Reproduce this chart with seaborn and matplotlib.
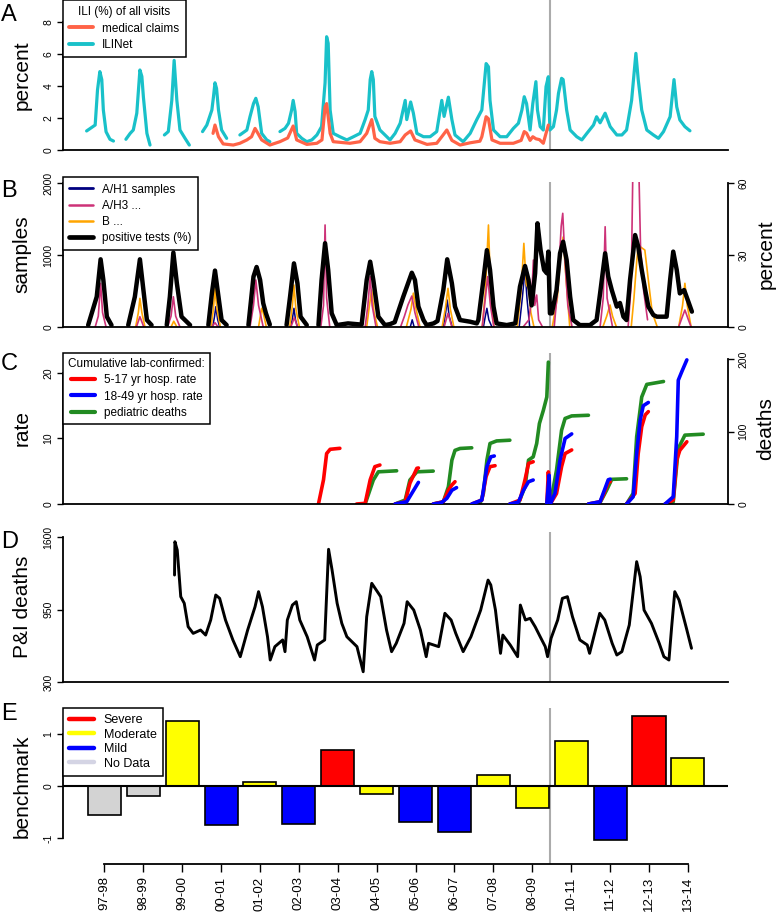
import numpy as np
import pandas as pd
import matplotlib
matplotlib.use("Agg")
import matplotlib.pyplot as plt
from matplotlib.lines import Line2D
from matplotlib import font_manager as fm
import seaborn as sns

nan = np.nan

# ---------------- Panel A : ILI (% of visits) ----------------
# time axis: seasons since Oct 1997 (2009-10 season removed)
ili_t = [0.08, 0.30, 0.36, 0.42, 0.47, 0.51, 0.58, 0.68, 0.77, nan,
         1.09, 1.20, 1.28, 1.37, 1.45, 1.50, 1.54, 1.63, 1.71, nan,
         2.08, 2.18, 2.27, 2.33, 2.40, 2.48, 2.61, 2.72, nan,
         3.06, 3.17, 3.30, 3.34, 3.38, 3.42, 3.47, 3.55, 3.68, nan,
         4.02, 4.20, 4.28, 4.37, 4.43, 4.49, 4.58, 4.71, 4.79, nan,
         5.05, 5.18, 5.27, 5.35, 5.39, 5.44, 5.48, 5.61, 5.74, 5.87,
         6.00, 6.12, 6.21, 6.25, 6.29, 6.34, 6.42, 6.59, 6.77, 6.94, 7.11,
         7.24, 7.32, 7.37, 7.41, 7.45, 7.49, 7.62, 7.75, 7.88, 8.01,
         8.14, 8.27, 8.31, 8.41, 8.48, 8.57, 8.74, 8.91,
         9.08, 9.21, 9.27, 9.38, 9.47, 9.55, 9.76, 9.94,
         10.11, 10.24, 10.35, 10.41, 10.45, 10.54, 10.71, 10.88,
         11.05, 11.18, 11.27, 11.33, 11.39, 11.48, 11.55, 11.63, 11.67, 11.74, 11.82, 11.89, 11.95, 11.99,
         12.08, 12.16, 12.21, 12.29, 12.33, 12.42, 12.51, 12.68, 12.81, 12.94,
         13.11, 13.19, 13.28, 13.41, 13.54, 13.71, 13.84, 13.96,
         14.09, 14.20, 14.26, 14.35, 14.48, 14.65, 14.78, 14.91,
         15.08, 15.18, 15.25, 15.33, 15.46, 15.59]
ili_v = [1.19, 1.56, 3.75, 4.9, 4.4, 2.5, 1.14, 0.67, 0.56, nan,
         0.67, 1.04, 1.25, 2.3, 5.0, 4.6, 3.3, 1.04, 0.31, nan,
         0.94, 1.15, 3.1, 5.6, 3.1, 1.25, 0.73, 0.31, nan,
         1.15, 1.56, 2.5, 3.3, 4.2, 3.85, 2.5, 1.25, 0.73, nan,
         0.94, 1.25, 2.08, 2.9, 3.23, 2.7, 1.04, 0.63, 0.52, nan,
         1.15, 1.35, 1.67, 2.5, 3.1, 2.4, 1.04, 0.73, 0.52, 0.63,
         0.94, 1.46, 4.2, 7.08, 6.67, 2.5, 1.04, 0.83, 0.63, 0.83, 1.04,
         1.9, 2.5, 4.4, 4.9, 4.4, 2.1, 1.25, 0.94, 0.63, 1.04,
         1.67, 3.1, 1.9, 3.0, 2.3, 1.04, 0.83, 0.83,
         1.15, 3.1, 2.1, 3.3, 1.9, 0.94, 0.52, 1.04,
         1.9, 2.5, 5.4, 5.2, 3.1, 1.25, 0.83, 0.83,
         1.35, 1.67, 2.5, 3.33, 2.9, 1.25, 2.9, 4.27, 2.5, 1.46, 1.25, 3.96, 4.58, 1.25,
         1.46, 2.5, 3.54, 4.48, 4.4, 2.5, 1.25, 0.83, 0.63, 1.04,
         1.56, 2.08, 1.7, 2.3, 1.46, 0.94, 0.94, 1.25,
         3.1, 6.04, 4.4, 2.5, 1.25, 0.94, 0.73, 1.15,
         2.08, 4.4, 2.7, 1.88, 1.46, 1.2]

claims_t = [3.33, 3.38, 3.47, 3.59, 3.85, 4.02, 4.20, 4.32, 4.41, 4.48, 4.58, 4.79, 5.05, 5.25,
            5.39, 5.48, 5.74, 6.00, 6.13, 6.21, 6.25, 6.34, 6.42, 6.85, 7.11, 7.28, 7.41, 7.49,
            7.62, 7.88, 8.14, 8.27, 8.41, 8.52, 8.83, 9.08, 9.21, 9.34, 9.47, 9.68, 9.94, 10.19,
            10.24, 10.35, 10.41, 10.50, 10.71, 11.05, 11.25, 11.33, 11.39, 11.48, 11.55, 11.63,
            11.72, 11.82, 11.89, 11.95]
claims_v = [1.04, 1.56, 0.83, 0.38, 0.31, 0.42, 0.63, 0.83, 1.35, 1.06, 0.63, 0.31, 0.52, 0.75,
            1.5, 0.63, 0.35, 0.42, 0.63, 2.7, 2.9, 1.04, 0.52, 0.42, 0.52, 1.04, 1.9, 0.73,
            0.52, 0.42, 0.52, 0.94, 1.19, 0.63, 0.35, 0.42, 0.83, 1.25, 0.6, 0.31, 0.45, 0.55,
            0.83, 2.08, 1.95, 0.63, 0.42, 0.42, 0.6, 1.15, 1.05, 0.6, 0.83, 0.7,
            0.65, 0.42, 1.04, 1.56]

# ---------------- Panel B : virology ----------------
h1_t = [3.32, 3.37, 3.40, 3.45, 3.50, nan, 5.33, 5.38, 5.41, 5.45, 5.50, nan,
        8.40, 8.45, 8.50, nan, 9.25, 9.31, 9.35, 9.40, 9.48, nan,
        10.28, 10.33, 10.37, 10.42, 10.50, nan, 11.20, 11.28, 11.35, 11.40, 11.47]
h1_v = [0, 150, 282, 100, 0, nan, 0, 150, 260, 100, 0, nan,
        0, 100, 0, nan, 0, 200, 375, 150, 0, nan,
        0, 150, 260, 100, 0, nan, 0, 400, 792, 400, 0]

h3_t = [0.30, 0.38, 0.44, 0.49, 0.58, nan, 1.36, 1.45, 1.55, nan,
        2.16, 2.25, 2.31, 2.37, 2.48, nan, 3.30, 3.38, 3.46, nan,
        4.28, 4.37, 4.43, 4.50, 4.62, nan, 5.33, 5.42, 5.50, nan,
        6.10, 6.17, 6.21, 6.25, 6.33, nan, 7.24, 7.31, 7.37, 7.42, 7.52, nan,
        8.15, 8.25, 8.34, 8.44, 8.52, 8.62, nan, 9.27, 9.37, 9.47, nan,
        10.25, 10.33, 10.39, 10.46, 10.55, nan,
        11.30, 11.45, 11.52, 11.565, 11.60, 11.65, 11.70, 11.80, nan,
        12.10, 12.20, 12.28, 12.32, 12.37, 12.45, 12.56, nan,
        13.28, 13.36, 13.41, 13.46, 13.60, nan,
        14.00, 14.08, 14.12, 14.20, 14.28, 14.32, 14.40, 14.50, nan,
        15.30, 15.40, 15.46, 15.55, 15.62]
h3_v = [0, 150, 607, 200, 0, nan, 0, 143, 0, nan,
        0, 150, 420, 150, 0, nan, 0, 60, 0, nan,
        0, 300, 653, 300, 0, nan, 0, 130, 0, nan,
        0, 300, 1417, 400, 0, nan, 0, 300, 699, 300, 0, nan,
        0, 150, 306, 430, 200, 0, nan, 0, 190, 0, nan,
        0, 400, 700, 300, 0, nan,
        0, 100, 400, 930, 300, 444, 100, 0, nan,
        0, 600, 1400, 1579, 1000, 300, 0, nan,
        0, 400, 1393, 400, 0, nan,
        0, 600, 2100, 3000, 2100, 1100, 500, 100, nan,
        0, 150, 236, 100, 0]

b_t = [1.34, 1.41, 1.45, 1.50, 1.58, nan, 2.25, 2.32, 2.40, nan,
       3.28, 3.34, 3.38, 3.43, 3.52, nan, 4.50, 4.58, 4.62, 4.70, nan,
       5.30, 5.37, 5.41, 5.46, 5.55, nan, 7.28, 7.35, 7.41, 7.47, 7.56, nan,
       8.30, 8.42, 8.48, 8.55, 8.65, nan, 9.22, 9.30, 9.37, 9.43, 9.52, nan,
       10.25, 10.33, 10.41, 10.46, 10.55, nan,
       11.15, 11.25, 11.32, 11.38, 11.45, 11.50, 11.58, nan,
       12.05, 12.18, 12.25, 12.33, 12.40, 12.50, nan,
       13.35, 13.45, 13.535, 13.60, 13.70, nan,
       14.08, 14.15, 14.22, 14.26, 14.35, 14.43, 14.52, 14.62, 14.75, nan,
       15.30, 15.40, 15.46, 15.52, 15.62]
b_v = [0, 200, 398, 200, 0, nan, 0, 80, 0, nan,
       0, 250, 537, 250, 0, nan, 0, 260, 200, 0, nan,
       0, 300, 583, 250, 0, nan, 0, 300, 514, 200, 0, nan,
       0, 250, 470, 250, 0, nan, 0, 250, 537, 250, 0, nan,
       0, 500, 1417, 600, 0, nan,
       0, 500, 1162, 600, 514, 200, 0, nan,
       0, 400, 900, 1250, 700, 0, nan,
       0, 150, 306, 150, 0, nan,
       0, 400, 900, 1139, 1100, 1069, 653, 200, 0, nan,
       0, 300, 607, 300, 0]

pos_t = [0.12, 0.34, 0.44, 0.51, 0.60, 0.72, nan,
         1.15, 1.32, 1.45, 1.54, 1.63, 1.75, nan,
         2.14, 2.22, 2.31, 2.40, 2.52, 2.74, nan,
         3.21, 3.30, 3.38, 3.47, 3.55, 3.68, nan,
         4.24, 4.37, 4.45, 4.54, 4.62, 4.69, 4.79, nan,
         5.22, 5.31, 5.41, 5.50, 5.58, 5.74, nan,
         6.04, 6.12, 6.21, 6.29, 6.38, 6.51, 6.80, 7.15,
         7.28, 7.37, 7.45, 7.58, 7.75, 7.88, 8.00,
         8.22, 8.44, 8.52, 8.61, 8.74, 8.82, 9.00, 9.10,
         9.17, 9.25, 9.35, 9.47, 9.55, 9.68, 9.94, 10.11,
         10.15, 10.28, 10.37, 10.45, 10.54, 10.62, 10.88,
         11.10, 11.22, 11.35, 11.44, 11.52, 11.61, 11.67, 11.75, 11.84, 11.91, 11.95, 11.99,
         12.04, 12.16, 12.25, 12.33, 12.42, 12.51, 12.59, 12.76, 13.02,
         13.19, 13.28, 13.41, 13.49, 13.58, 13.71, 13.79, 13.88, 13.96,
         14.05, 14.18, 14.26, 14.35, 14.44, 14.52, 14.65, 14.74, 14.99,
         15.08, 15.16, 15.25, 15.33, 15.44, 15.55, 15.64]
pos_v = [0.8, 12.6, 28.2, 19.6, 4.3, 0.8, nan,
         0.8, 12.6, 28.2, 15.4, 2.9, 0.8, nan,
         0.8, 12.6, 31.0, 18.2, 4.3, 0.8, nan,
         0.8, 14.0, 23.5, 12.6, 2.9, 0.8, nan,
         0.8, 21.0, 25.0, 19.6, 9.9, 5.7, 1.0, nan,
         0.8, 12.6, 26.5, 18.2, 4.3, 0.8, nan,
         0.8, 19.6, 34.9, 23.8, 5.7, 0.8, 1.5, 1.0,
         19.6, 27.2, 19.6, 4.3, 0.8, 1.2, 2.0,
         12.6, 22.6, 19.6, 8.5, 2.9, 0.8, 1.5, 2.5,
         8.5, 15.4, 28.2, 18.2, 8.5, 2.9, 2.2, 1.5,
         2.9, 19.6, 32.0, 23.8, 8.5, 1.5, 0.8,
         1.5, 16.8, 25.4, 19.6, 9.0, 22.4, 43.2, 32.0, 23.8, 22.4, 31.4, 5.7,
         5.7, 15.4, 30.7, 35.5, 27.9, 12.6, 2.9, 0.8, 0.8,
         2.9, 14.0, 30.7, 21.0, 15.4, 8.5, 10.0, 4.3, 2.9,
         19.6, 38.3, 33.5, 23.8, 15.4, 8.5, 5.0, 4.3, 4.3,
         19.6, 31.4, 23.8, 14.0, 15.4, 10.5, 6.4]

# ---------------- Panel C : cumulative lab-confirmed ----------------
red_t = [6.04, 6.17, 6.25, 6.34, 6.59, nan, 7.02, 7.24, 7.37, 7.49, 7.62, nan,
         8.01, 8.27, 8.39, 8.57, 8.61, nan, 8.99, 9.25, 9.38, 9.47, 9.55, nan,
         9.98, 10.24, 10.35, 10.45, 10.58, nan, 10.96, 11.22, 11.35, 11.44, 11.56, nan,
         11.91, 11.95, 11.99, nan, 12.00, 12.16, 12.29, 12.38, 12.55, nan,
         12.98, 13.28, 13.36, 13.49, 13.54, nan, 13.96, 14.18, 14.26, 14.35, 14.44, 14.52, nan,
         14.95, 15.16, 15.25, 15.33, 15.51]
red_v = [0, 3.7, 7.7, 8.35, 8.5, nan, 0, 0.1, 3.7, 5.7, 5.95, nan,
         0, 0.35, 3.16, 5.45, 5.5, nan, 0, 0.35, 2.1, 2.9, 3.4, nan,
         0, 0.6, 4.2, 5.7, 5.85, nan, 0, 0.6, 3.7, 6.2, 6.45, nan,
         0, 4.9, 0.5, nan, 0, 1.6, 5.7, 7.7, 8.25, nan,
         0, 0.35, 1.3, 3.3, 3.4, nan, 0, 1.6, 7.7, 11.8, 13.6, 14.1, nan,
         0, 0.6, 6.7, 8.2, 9.5]

blue_t = [8.01, 8.31, 8.44, 8.61, nan, 8.99, 9.20, 9.34, 9.47, 9.59, nan,
          9.98, 10.24, 10.37, 10.47, 10.56, nan, 10.96, 11.18, 11.31, 11.44, 11.56, nan,
          11.91, 11.97, 11.99, nan, 12.00, 12.12, 12.25, 12.38, 12.55, nan,
          12.98, 13.28, 13.36, 13.49, 13.54, nan, 13.96, 14.13, 14.22, 14.31, 14.39, 14.52, nan,
          14.95, 15.16, 15.25, 15.29, 15.38, 15.51]
blue_v = [0, 0.35, 1.63, 3.3, nan, 0, 0.2, 0.86, 2.1, 2.5, nan,
          0, 0.6, 5.7, 7.2, 7.33, nan, 0, 0.3, 2.1, 3.4, 3.66, nan,
          0, 4.4, 0.3, nan, 0, 1.63, 6.7, 10.0, 10.7, nan,
          0, 0.35, 1.63, 3.7, 3.8, nan, 0, 1.1, 7.7, 12.8, 15.0, 15.5, nan,
          0, 1.1, 10.3, 18.9, 20.2, 22.0]

green_t = [7.24, 7.45, 7.58, 8.05, nan, 8.01, 8.27, 8.39, 8.57, 8.99, nan,
           8.99, 9.25, 9.38, 9.47, 9.55, 9.68, 9.98, nan,
           10.19, 10.28, 10.37, 10.45, 10.62, 10.96, nan,
           10.96, 11.18, 11.35, 11.44, 11.56, 11.65, 11.72, 11.82, 11.91, 11.95, nan,
           12.00, 12.16, 12.29, 12.38, 12.55, 12.98, nan,
           12.98, 13.28, 13.45, 13.58, 13.96, nan,
           13.96, 14.13, 14.22, 14.35, 14.48, 14.91, nan,
           14.95, 15.16, 15.29, 15.46, 15.93]
green_v = [0, 33, 44.4, 45.8, nan, 0, 5.5, 33, 44.4, 45.4, nan,
           0, 3, 23.8, 60.5, 74, 76.6, 77.5, nan,
           0, 14.7, 60.5, 83.5, 87, 88, nan,
           0, 1, 23.8, 60.5, 65, 83.5, 111, 129, 147.6, 195.7, nan,
           0, 46.8, 101.8, 118, 121.5, 122.4, nan,
           0, 2, 19.3, 34, 34.8, nan,
           0, 14.7, 92.6, 147.6, 165, 169, nan,
           0, 3, 76.6, 95, 96.3]

# ---------------- Panel D : P&I deaths ----------------
pi_t = [2.34, 2.35, 2.41, 2.50, 2.59, 2.69, 2.82, 3.01, 3.14, 3.27,
        3.40, 3.50, 3.65, 3.84, 4.03, 4.22, 4.41, 4.50, 4.60, 4.73,
        4.80, 4.92, 5.12, 5.18, 5.24, 5.37, 5.47, 5.56, 5.75, 5.94,
        6.01, 6.20, 6.30, 6.39, 6.52, 6.64, 6.77, 7.03, 7.19, 7.28,
        7.41, 7.47, 7.64, 7.79, 7.92, 8.04, 8.24, 8.32, 8.49, 8.66,
        8.81, 8.87, 9.13, 9.29, 9.45, 9.57, 9.76, 9.96, 10.21, 10.40,
        10.47, 10.59, 10.72, 10.78, 10.97, 11.16, 11.23, 11.36, 11.48, 11.61,
        11.74, 11.87, 11.93, 12.02, 12.19, 12.31, 12.44, 12.57, 12.76, 12.95,
        13.01, 13.14, 13.27, 13.40, 13.59, 13.71, 13.84, 14.03, 14.22, 14.31,
        14.41, 14.60, 14.80, 14.92, 15.05, 15.12, 15.20, 15.31, 15.50, 15.63]
pi_v = [1259, 1558, 1483, 1065, 1006, 796, 736, 766, 721, 856,
        1080, 1050, 856, 677, 527, 766, 975, 1110, 975, 706,
        497, 617, 677, 572, 856, 990, 1020, 856, 706, 497,
        632, 677, 1490, 1304, 1006, 826, 706, 617, 392, 885,
        1185, 1154, 1065, 766, 572, 647, 826, 1020, 945, 766,
        527, 647, 617, 916, 856, 736, 572, 706, 945, 1214,
        1170, 945, 557, 721, 632, 527, 990, 856, 871, 796,
        706, 617, 527, 692, 856, 1050, 1065, 885, 677, 632,
        557, 736, 916, 856, 647, 542, 572, 811, 1379, 1244,
        945, 826, 647, 527, 497, 796, 1110, 1035, 781, 602]

# ---------------- Panel E : severity benchmark ----------------
seasons = ["97-98", "98-99", "99-00", "00-01", "01-02", "02-03", "03-04", "04-05",
           "05-06", "06-07", "07-08", "08-09", "10-11", "11-12", "12-13", "13-14"]
bench = [-0.56, -0.19, 1.25, -0.75, 0.07, -0.74, 0.70, -0.16,
         -0.70, -0.88, 0.22, -0.42, 0.86, -1.04, 1.34, 0.54]
severity = ["No Data", "No Data", "Moderate", "Mild", "Moderate", "Mild", "Severe", "Moderate",
            "Mild", "Mild", "Moderate", "Moderate", "Moderate", "Mild", "Severe", "Moderate"]
sev_levels = ["Severe", "Moderate", "Mild", "No Data"]

# ---------------- styling ----------------
sns.set_theme(style="white")
plt.rcParams["font.family"] = ["Liberation Sans", "DejaVu Sans"]
plt.rcParams.update({
    "axes.edgecolor": "black", "xtick.color": "black", "ytick.color": "black",
    "text.color": "black", "axes.labelcolor": "black",
    "lines.solid_capstyle": "round", "lines.solid_joinstyle": "round",
})
names = {f.name for f in fm.fontManager.ttflist}
narrow = "Liberation Sans Narrow" if "Liberation Sans Narrow" in names else "Liberation Sans"

C_ILI = "#19C1C9"
C_CLAIM = "#FF6347"
C_H1 = "#000080"
C_H3 = "#CD3278"
C_B = "#FFA500"
C_GREY = "#ABABAB"
sev_colors = {"Severe": "#FF0000", "Moderate": "#FFFF00", "Mild": "#0000FF", "No Data": "#D3D3D3"}
sev_leg_colors = {"Severe": "#FF0000", "Moderate": "#FFFF00", "Mild": "#0000FF", "No Data": "#D4D4E4"}

W, H = 777, 914
fig = plt.figure(figsize=(W / 100, H / 100), dpi=100)
fig.patch.set_facecolor("white")


def axes_px(top, bottom, left=63, right=728):
    return fig.add_axes([left / W, 1 - bottom / H, (right - left) / W, (bottom - top) / H])


def make_df(t, v):
    t = np.asarray(t, float)
    v = np.asarray(v, float)
    seg = np.cumsum(np.isnan(t))
    return pd.DataFrame({"t": t, "v": v, "seg": seg}).dropna()


def draw(ax, t, v, color, lw, z=2):
    sns.lineplot(data=make_df(t, v), x="t", y="v", units="seg", estimator=None,
                 sort=False, color=color, lw=lw, ax=ax, zorder=z)


XLIM = (-0.527, 16.568)
SPINE_LW = 1.3


def style_left(ax, ticks, lo, hi, label, labx=-0.047):
    for s in ["top", "right"]:
        ax.spines[s].set_visible(False)
    ax.spines["left"].set_linewidth(SPINE_LW)
    ax.spines["bottom"].set_linewidth(SPINE_LW)
    ax.spines["left"].set_bounds(lo, hi)
    ax.set_yticks(ticks)
    ax.set_yticklabels([str(x) for x in ticks])
    ax.tick_params(axis="y", length=4.5, width=1.0, labelsize=7.5, pad=2.5,
                   labelrotation=90, direction="out", left=True)
    for lbl in ax.get_yticklabels():
        lbl.set_va("center")
    ax.set_xticks([])
    ax.set_xlabel("")
    ax.set_ylabel(label, fontsize=15)
    ax.yaxis.set_label_coords(labx, 0.5)


def style_right(tw, ticks, lo, hi, label):
    for s in ["top", "left", "bottom"]:
        tw.spines[s].set_visible(False)
    tw.spines["right"].set_visible(True)
    tw.spines["right"].set_linewidth(SPINE_LW)
    tw.spines["right"].set_bounds(lo, hi)
    tw.set_yticks(ticks)
    tw.set_yticklabels([str(x) for x in ticks])
    tw.tick_params(axis="y", length=4.5, width=1.0, labelsize=7.5, pad=3,
                   labelrotation=90, direction="out", right=True)
    for lbl in tw.get_yticklabels():
        lbl.set_va("center")
    tw.set_xticks([])
    tw.set_xlabel("")
    tw.set_ylabel(label, fontsize=15)
    tw.yaxis.set_label_coords(1.043, 0.5)


def legend_box(ax, handles, labels, title=None, yanchor=1.0, fontsize=8.5, family=None,
               handlelength=2.0, labelspacing=0.35, borderpad=0.55):
    prop = {"size": fontsize}
    if family:
        prop["family"] = family
    leg = ax.legend(handles, labels, title=title, loc="upper left",
                    bbox_to_anchor=(0, yanchor), bbox_transform=ax.transAxes,
                    frameon=True, fancybox=False, edgecolor="black", facecolor="white",
                    framealpha=1, prop=prop, title_fontsize=fontsize, borderaxespad=0,
                    handlelength=handlelength, handletextpad=0.75, labelspacing=labelspacing,
                    borderpad=borderpad)
    leg.get_frame().set_linewidth(1.1)
    leg.set_zorder(20)
    return leg


# ---------------- A ----------------
axA = axes_px(0, 150)
axA.axvline(12.0, color=C_GREY, lw=1.5, zorder=0.5)
draw(axA, ili_t, ili_v, C_ILI, 2.3)
draw(axA, claims_t, claims_v, C_CLAIM, 2.3)
axA.set_xlim(*XLIM)
axA.set_ylim(0, 9.375)
style_left(axA, [0, 2, 4, 6, 8], 0, 8, "percent")
legend_box(axA, [Line2D([0], [0], color=C_CLAIM, lw=2.8), Line2D([0], [0], color=C_ILI, lw=2.8)],
           ["medical claims", "ILINet"], title="ILI (%) of all visits")

# ---------------- B ----------------
axB = axes_px(182, 327)
axB.axvline(12.0, color=C_GREY, lw=1.5, zorder=0.5)
draw(axB, h1_t, h1_v, C_H1, 1.1)
draw(axB, b_t, b_v, C_B, 1.2)
draw(axB, h3_t, h3_v, C_H3, 1.2)
axB.set_xlim(*XLIM)
axB.set_ylim(0, 2014)
style_left(axB, [0, 1000, 2000], 0, 2000, "samples")
axB2 = axB.twinx()
draw(axB2, pos_t, pos_v, "black", 3.2, z=3)
axB2.set_xlim(*XLIM)
axB2.set_ylim(0, 60.4)
style_right(axB2, [0, 30, 60], 0, 60, "percent")
legend_box(axB2, [Line2D([0], [0], color=C_H1, lw=2), Line2D([0], [0], color=C_H3, lw=1.8),
                  Line2D([0], [0], color=C_B, lw=1.8), Line2D([0], [0], color="black", lw=3.4)],
           ["A/H1 samples", "A/H3 ...", "B ...", "positive tests (%)"], yanchor=1.034)

# ---------------- C ----------------
axC = axes_px(353, 504)
axC2 = axC.twinx()
axC2.axvline(12.0, color=C_GREY, lw=1.5, zorder=0.5)
draw(axC2, green_t, green_v, "#228B22", 2.6)
draw(axC, red_t, red_v, "#FF0000", 2.6)
draw(axC, blue_t, blue_v, "#0000FF", 2.6, z=3)
axC.set_zorder(axC2.get_zorder() + 1)
axC.patch.set_visible(False)
axC.set_xlim(*XLIM)
axC2.set_xlim(*XLIM)
axC.set_ylim(0, 23.05)
axC2.set_ylim(0, 208.3)
style_left(axC, [0, 10, 20], 0, 20, "rate")
style_right(axC2, [0, 100, 200], 0, 200, "deaths")
axC.spines["bottom"].set_visible(True)
legend_box(axC, [Line2D([0], [0], color="#FF0000", lw=3), Line2D([0], [0], color="#0000FF", lw=3),
                 Line2D([0], [0], color="#228B22", lw=3)],
           ["5-17 yr hosp. rate", "18-49 yr hosp. rate", "pediatric deaths"],
           title="Cumulative lab-confirmed:", borderpad=0.45)

# ---------------- D ----------------
axD = axes_px(532, 682)
axD.axvline(12.0, color=C_GREY, lw=1.5, zorder=0.5)
draw(axD, pi_t, pi_v, "black", 2.1)
axD.set_xlim(*XLIM)
axD.set_ylim(300, 1645)
style_left(axD, [300, 950, 1600], 300, 1600, "P&I deaths")

# ---------------- E ----------------
axE = axes_px(708, 864)
sns.barplot(x=seasons, y=bench, hue=severity, palette=sev_colors, order=seasons,
            hue_order=sev_levels, dodge=False, width=0.85, edgecolor="black",
            linewidth=1.2, saturation=1, legend=False, ax=axE, zorder=2)
axE.axhline(0, color="black", lw=1.5, zorder=3)
axE.axvline(11.46, color=C_GREY, lw=1.5, zorder=1)
axE.set_xlim(-1.062, 16.03)
axE.set_ylim(-1.5, 1.5)
style_left(axE, [-1, 0, 1], -1, 1, "benchmark")
axE.spines["bottom"].set_bounds(0, 15)
axE.set_xticks(range(len(seasons)))
axE.set_xticklabels(seasons, rotation=90, fontsize=9.5)
axE.tick_params(axis="x", length=6, width=1.0, pad=3, direction="out", bottom=True)
axE.set_xlabel("")
legend_box(axE, [Line2D([0], [0], color=sev_leg_colors[s], lw=3.2) for s in sev_levels],
           sev_levels, fontsize=9, family=narrow, handlelength=2.0, labelspacing=0.2,
           borderpad=0.5)

# panel letters
for letter, ypx in [("A", 15), ("B", 191), ("C", 364), ("D", 542), ("E", 714)]:
    fig.text(1 / W, 1 - ypx / H, letter, fontsize=17, ha="left", va="center")

fig.savefig("out.png", dpi=100)
